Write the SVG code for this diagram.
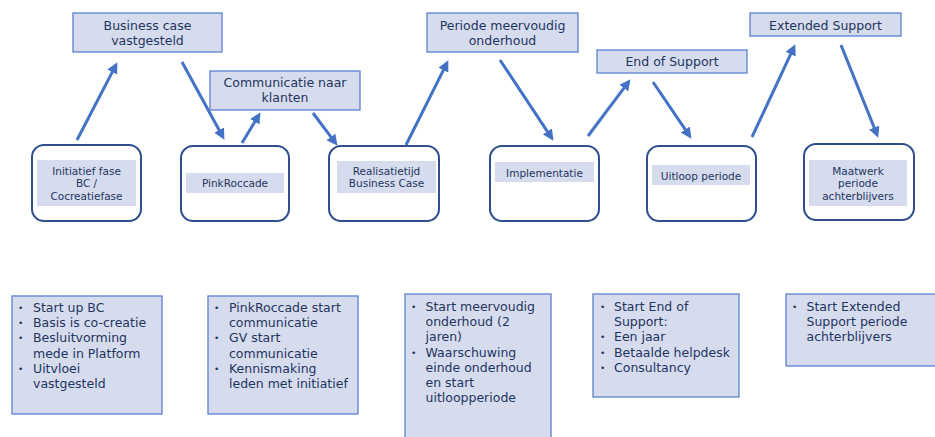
<svg xmlns="http://www.w3.org/2000/svg" width="935" height="437" viewBox="0 0 935 437">
<defs>
<marker id="ah" markerUnits="userSpaceOnUse" markerWidth="11" markerHeight="11" viewBox="0 0 10 10" refX="2" refY="5" orient="auto">
<path d="M0,0 L10,5 L0,10 z" fill="#4472C4"/>
</marker>
</defs>
<style>
.box{fill:#D6DCEE;stroke:#5B82D0;stroke-width:1.3}
.node{fill:#FFFFFF;stroke:#2F4E8E;stroke-width:2}
.lab{fill:#D6DCEE;stroke:none}
.t{font-family:"DejaVu Sans",Verdana,sans-serif;font-size:12.5px;fill:#1F3460;text-anchor:middle}
.s{font-family:"DejaVu Sans",Verdana,sans-serif;font-size:10.5px;fill:#1F3460;text-anchor:middle}
.b{font-family:"DejaVu Sans",Verdana,sans-serif;font-size:12.5px;fill:#1F3460}
.d{font-family:"DejaVu Sans",Verdana,sans-serif;font-size:9px;fill:#1F3460}
.c{stroke:#4472C4;stroke-width:3;fill:none;marker-end:url(#ah)}
</style>
<rect width="935" height="437" fill="#FFFFFF"/>

<g id="connectors">
<line class="c" x1="77" y1="140" x2="113.3" y2="70.1"/>
<line class="c" x1="182" y1="62" x2="220.2" y2="132"/>
<line class="c" x1="242" y1="143" x2="255.9" y2="119.9"/>
<line class="c" x1="313" y1="113" x2="332.2" y2="138.6"/>
<line class="c" x1="406" y1="145" x2="444.4" y2="68.2"/>
<line class="c" x1="500" y1="60" x2="548.6" y2="133.3"/>
<line class="c" x1="588" y1="136" x2="625.2" y2="86.4"/>
<line class="c" x1="653" y1="82" x2="686.5" y2="131.4"/>
<line class="c" x1="752" y1="137" x2="791.6" y2="52.2"/>
<line class="c" x1="841" y1="45" x2="875" y2="129.6"/>
</g>

<g id="bc-vastgesteld">
<rect class="box" x="73" y="13" width="149" height="39"/>
<text class="t" x="147.5" y="29.5">Business case</text>
<text class="t" x="147.5" y="44.5">vastgesteld</text>
</g>
<g id="communicatie">
<rect class="box" x="210" y="71" width="150" height="39"/>
<text class="t" x="285" y="87">Communicatie naar</text>
<text class="t" x="285" y="102">klanten</text>
</g>
<g id="periode-meervoudig">
<rect class="box" x="427" y="13" width="151" height="39"/>
<text class="t" x="502.5" y="29.5">Periode meervoudig</text>
<text class="t" x="502.5" y="44.5">onderhoud</text>
</g>
<g id="end-of-support">
<rect class="box" x="597" y="50" width="150" height="23"/>
<text class="t" x="672" y="65.5">End of Support</text>
</g>
<g id="extended-support">
<rect class="box" x="750" y="13" width="151" height="23"/>
<text class="t" x="825.5" y="29.5">Extended Support</text>
</g>

<g id="n-initiatief">
<rect class="node" x="32" y="145" width="109" height="76" rx="12"/>
<rect class="lab" x="37" y="160" width="99" height="46"/>
<text class="s" x="86.5" y="174.5">Initiatief fase</text>
<text class="s" x="86.5" y="187">BC /</text>
<text class="s" x="86.5" y="199.5">Cocreatiefase</text>
</g>
<g id="n-pinkroccade">
<rect class="node" x="181" y="146" width="108" height="75" rx="12"/>
<rect class="lab" x="186" y="173" width="98" height="20"/>
<text class="s" x="235" y="186.5">PinkRoccade</text>
</g>
<g id="n-realisatie">
<rect class="node" x="329" y="146" width="110" height="75" rx="12"/>
<rect class="lab" x="337" y="161" width="99" height="32"/>
<text class="s" x="386.5" y="174.5">Realisatietijd</text>
<text class="s" x="386.5" y="187.3">Business Case</text>
</g>
<g id="n-implementatie">
<rect class="node" x="490" y="146" width="109" height="75" rx="12"/>
<rect class="lab" x="495" y="162" width="99" height="20"/>
<text class="s" x="544.5" y="176.5">Implementatie</text>
</g>
<g id="n-uitloop">
<rect class="node" x="647" y="146" width="109" height="75" rx="12"/>
<rect class="lab" x="652" y="165" width="98" height="20"/>
<text class="s" x="701" y="179.5">Uitloop periode</text>
</g>
<g id="n-maatwerk">
<rect class="node" x="804" y="144" width="110" height="76" rx="12"/>
<rect class="lab" x="809" y="160" width="98" height="46"/>
<text class="s" x="858" y="174.5">Maatwerk</text>
<text class="s" x="858" y="187">periode</text>
<text class="s" x="858" y="199.5">achterblijvers</text>
</g>

<g id="b-initiatief">
<rect class="box" x="12" y="296" width="150" height="118"/>
<text class="d" x="18" y="311">•</text>
<text class="b" x="33" y="312">Start up BC</text>
<text class="d" x="18" y="326.2">•</text>
<text class="b" x="33" y="327.2">Basis is co-creatie</text>
<text class="d" x="18" y="341.4">•</text>
<text class="b" x="33" y="342.4">Besluitvorming</text>
<text class="b" x="33" y="357.6">mede in Platform</text>
<text class="d" x="18" y="371.8">•</text>
<text class="b" x="33" y="372.8">Uitvloei</text>
<text class="b" x="33" y="388">vastgesteld</text>
</g>
<g id="b-pinkroccade">
<rect class="box" x="208" y="296" width="150" height="118"/>
<text class="d" x="214" y="311">•</text>
<text class="b" x="229" y="312">PinkRoccade start</text>
<text class="b" x="229" y="327.2">communicatie</text>
<text class="d" x="214" y="341.4">•</text>
<text class="b" x="229" y="342.4">GV start</text>
<text class="b" x="229" y="357.6">communicatie</text>
<text class="d" x="214" y="371.8">•</text>
<text class="b" x="229" y="372.8">Kennismaking</text>
<text class="b" x="229" y="388">leden met initiatief</text>
</g>
<g id="b-meervoudig">
<rect class="box" x="405" y="294" width="146" height="150"/>
<text class="d" x="411" y="310">•</text>
<text class="b" x="425.5" y="311">Start meervoudig</text>
<text class="b" x="425.5" y="326.2">onderhoud (2</text>
<text class="b" x="425.5" y="341.4">jaren)</text>
<text class="d" x="411" y="355.6">•</text>
<text class="b" x="425.5" y="356.6">Waarschuwing</text>
<text class="b" x="425.5" y="371.8">einde onderhoud</text>
<text class="b" x="425.5" y="387">en start</text>
<text class="b" x="425.5" y="402.2">uitloopperiode</text>
</g>
<g id="b-endofsupport">
<rect class="box" x="593" y="294" width="146" height="103"/>
<text class="d" x="600" y="310">•</text>
<text class="b" x="614" y="311">Start End of</text>
<text class="b" x="614" y="326.2">Support:</text>
<text class="d" x="600" y="340.4">•</text>
<text class="b" x="614" y="341.4">Een jaar</text>
<text class="d" x="600" y="355.6">•</text>
<text class="b" x="614" y="356.6">Betaalde helpdesk</text>
<text class="d" x="600" y="370.8">•</text>
<text class="b" x="614" y="371.8">Consultancy</text>
</g>
<g id="b-extended">
<rect class="box" x="786" y="294" width="160" height="72"/>
<text class="d" x="792" y="310">•</text>
<text class="b" x="806.5" y="311">Start Extended</text>
<text class="b" x="806.5" y="326.2">Support periode</text>
<text class="b" x="806.5" y="341.4">achterblijvers</text>
</g>
</svg>
